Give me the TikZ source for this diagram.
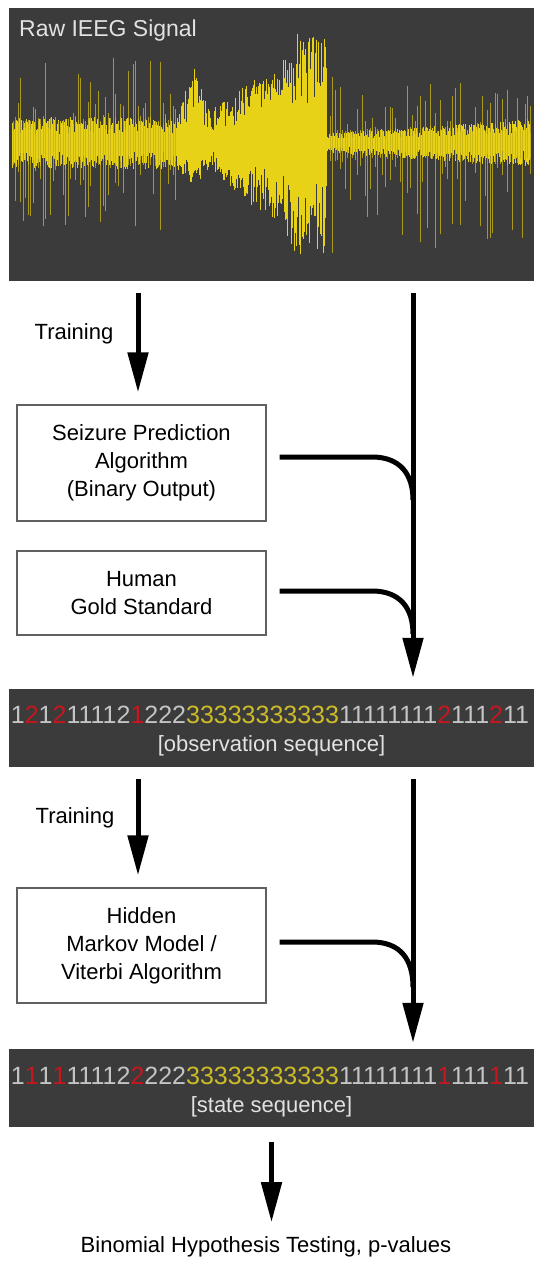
\documentclass[tikz,border=0pt]{standalone}
\usepackage{fontspec}
\setmainfont{Liberation Sans}
\usetikzlibrary{arrows.meta,positioning}

\definecolor{panelgray}{RGB}{59,59,59}
\definecolor{waveyellow}{RGB}{232,210,24}
\definecolor{digitgray}{RGB}{196,196,196}
\definecolor{digitred}{RGB}{200,22,30}
\definecolor{digityellow}{RGB}{205,188,40}
\definecolor{labelgray}{RGB}{226,226,226}
\definecolor{boxline}{RGB}{96,96,96}

\newcommand{\rd}[1]{\textcolor{digitred}{#1}}
\newcommand{\yl}[1]{\textcolor{digityellow}{#1}}
\newcommand{\wavebar}[3]{%
  \pgfmathsetmacro{\lenup}{(#2)*(0.35+0.65*rnd)}%
  \pgfmathsetmacro{\lendn}{(#3)*(0.35+0.65*rnd)}%
  \draw[wave] (#1,143-\lenup) -- (#1,143+\lendn);}

\tikzset{
  procbox/.style={draw=boxline, line width=1.3pt, minimum width=249pt, align=center,
    font=\fontsize{22}{28}\selectfont},
  seqbar/.style={fill=panelgray, minimum width=525pt, minimum height=78pt, inner sep=0pt},
  seqtext/.style={text=digitgray, font=\fontsize{25}{28}\selectfont, inner sep=0pt},
  seqlabel/.style={text=labelgray, font=\fontsize{22}{28}\selectfont, inner sep=0pt},
  note/.style={font=\fontsize{22}{28}\selectfont},
  flow/.style={line width=5pt, -{Triangle[length=40pt,width=20pt]}},
  feed/.style={line width=5pt},
  wave/.style={waveyellow, line width=0.9pt},
  spike/.style={waveyellow!85!black, line width=0.7pt, opacity=0.8},
}

\begin{document}
\begin{tikzpicture}[x=1pt,y=-1pt]
\fill[white] (0,0) rectangle (546,1268);
\useasboundingbox (0,0) rectangle (546,1268);

\node[seqbar, minimum height=273pt] (eeg) at (271.5,144.5) {};

\pgfmathsetseed{11}
\foreach \x in {12,12.6,...,178}{\wavebar{\x}{26}{26}}
\foreach \x in {178.6,179.2,...,214}{\wavebar{\x}{22+55*(1-abs(\x-194)/20)}{22+22*(1-abs(\x-194)/20)}}
\foreach \x in {214.6,215.2,...,290}{\wavebar{\x}{35+55*(\x-214)/76}{30+65*(\x-214)/76}}
\foreach \x in {290.6,291.2,...,326}{\wavebar{\x}{110}{112}}
\foreach \x in {326.6,327.2,...,530}{\wavebar{\x}{10+14*(\x-326)/205}{10+14*(\x-326)/205}}
\foreach \x in {13,15.5,...,176}{
  \pgfmathsetmacro{\lenup}{22+65*pow(rnd,3)}
  \pgfmathsetmacro{\lendn}{22+65*pow(rnd,3)}
  \draw[spike] (\x,143-\lenup) -- (\x,143+\lendn);
}
\foreach \x in {330,332.5,...,530}{
  \pgfmathsetmacro{\lenup}{12+55*pow(rnd,3)}
  \pgfmathsetmacro{\lendn}{15+100*pow(rnd,3)}
  \draw[spike] (\x,143-\lenup) -- (\x,143+\lendn);
}

\node[seqlabel, anchor=west, font=\fontsize{23}{28}\selectfont] (eegtitle) at (19,31) {Raw IEEG Signal};

\node[note] (trainA) at (74,334) {Training};
\node[procbox, minimum height=116pt] (spa) at (141.5,463) {Seizure Prediction\\Algorithm\\(Binary Output)};
\node[procbox, minimum height=84pt] (gold) at (141.5,593) {Human\\Gold Standard};

\node[seqbar] (obs) at (271.5,728) {};
\node[seqtext] (obsseq) at (270,714.5) {1\rd{2}1\rd{2}11112\rd{1}222\yl{33333333333}11111111\rd{2}111\rd{2}11};
\node[seqlabel] (obslabel) at (271.5,746) {[observation sequence]};

\node[note] (trainB) at (75,818) {Training};
\node[procbox, minimum height=115pt] (hmm) at (141.5,945.5) {Hidden\\Markov Model /\\Viterbi Algorithm};

\node[seqbar] (state) at (271.5,1088) {};
\node[seqtext] (stateseq) at (270,1075.5) {1\rd{1}1\rd{1}11112\rd{2}222\yl{33333333333}11111111\rd{1}111\rd{1}11};
\node[seqlabel] (statelabel) at (271.5,1106.5) {[state sequence]};

\node[note] (result) at (266,1247) {Binomial Hypothesis Testing, p-values};

\coordinate (splitA) at (138,293);
\coordinate (railA) at (413,293);
\coordinate (splitB) at (138,779);
\coordinate (railB) at (413,779);
\coordinate (joinA) at (413,500);
\coordinate (joinB) at (413,634);
\coordinate (joinC) at (413,987);

\draw[flow, shorten >=12pt] (splitA) -- (splitA |- spa.north);
\draw[flow, shorten >=11pt] (railA) -- (railA |- obs.north);
\draw[feed] ([xshift=13pt,yshift=6pt]spa.east) -- (372,457) .. controls (400,457) and (413,474) .. (joinA);
\draw[feed] ([xshift=13pt,yshift=2pt]gold.east) -- (372,591) .. controls (400,591) and (413,608) .. (joinB);

\draw[flow, shorten >=12pt] (splitB) -- (splitB |- hmm.north);
\draw[flow, shorten >=6pt] (railB) -- (railB |- state.north);
\draw[feed] ([xshift=13pt,yshift=3.5pt]hmm.east) -- (372,942) .. controls (400,942) and (413,959) .. (joinC);

\draw[flow, shorten >=11pt] ([yshift=-15pt]state.south) -- (state.south |- result.north);
\end{tikzpicture}
\end{document}
